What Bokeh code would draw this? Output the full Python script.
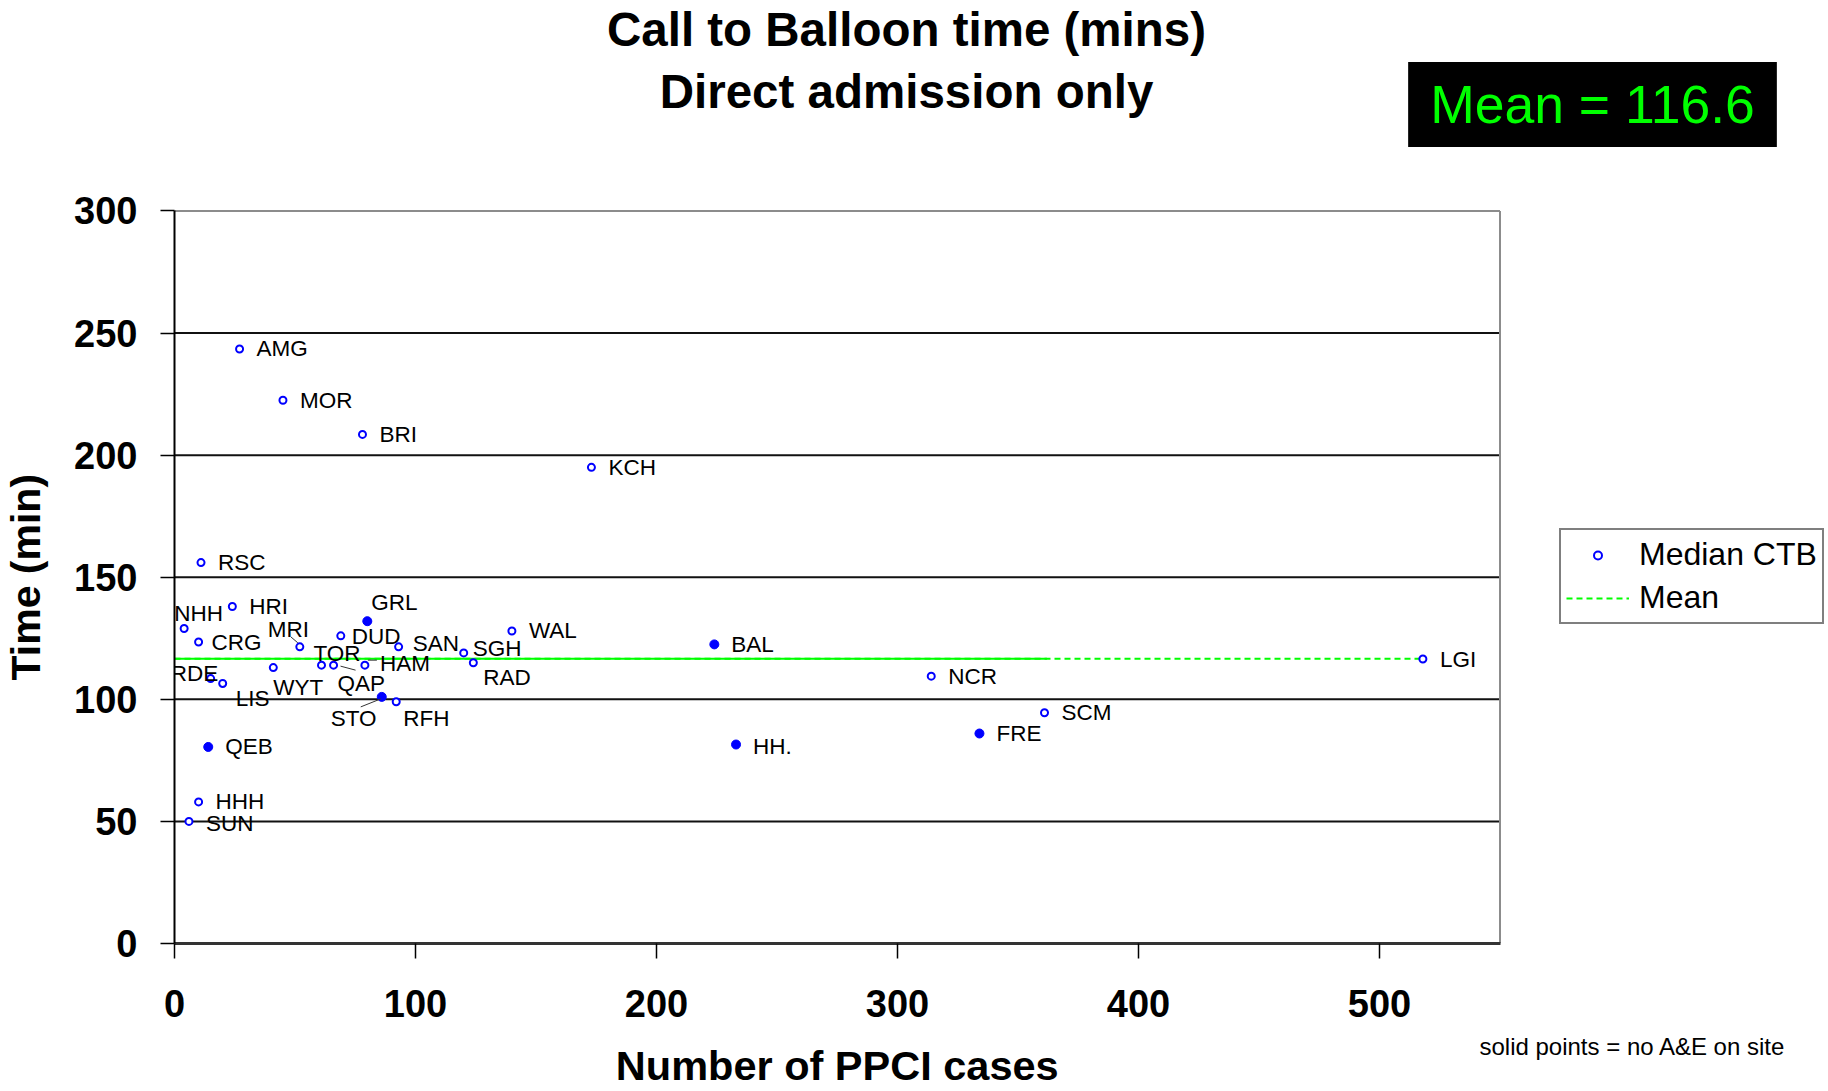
from bokeh.plotting import figure
from bokeh.models import (Label, Legend, LegendItem, ColumnDataSource, FixedTicker,
                          Range1d, LinearAxis)
from bokeh.embed import file_html
from bokeh.resources import INLINE
from bokeh.core.properties import value

# ---------------- data ----------------
codes = ["AMG", "MOR", "BRI", "KCH", "RSC", "NHH", "HRI", "CRG", "MRI", "GRL",
         "DUD", "SAN", "SGH", "WAL", "TOR", "QAP", "HAM", "WYT", "RDE", "LIS",
         "RAD", "STO", "RFH", "QEB", "HHH", "SUN", "BAL", "HH.", "NCR", "FRE",
         "SCM", "LGI"]
ppci_cases = [27, 45, 78, 173, 11, 4, 24, 10, 52, 80,
              69, 93, 120, 140, 61, 66, 79, 41, 15, 20,
              124, 86, 92, 14, 10, 6, 224, 233, 314, 334,
              361, 518]
median_ctb = [243.5, 222.5, 208.5, 195, 156, 129, 138, 123.5, 121.5, 132,
              126, 121.5, 119, 128, 114, 114, 114, 113, 108.5, 106.5,
              115, 101, 99, 80.5, 58, 50, 122.5, 81.5, 109.5, 86,
              94.5, 116.5]
no_ae_on_site = ["GRL", "STO", "QEB", "BAL", "HH.", "FRE"]
mean_ctb = 116.6
mean_solid_end = 362
x_ticks = [0, 100, 200, 300, 400, 500]
y_ticks = [0, 50, 100, 150, 200, 250, 300]
x_axis_max = 550
y_axis_max = 300
x_title = "Number of PPCI cases"
y_title = "Time (min)"
note_text = "solid points = no A&E on site"

# label placement (pixel offsets from the point; default right of point)
label_offsets = {
    "NHH": (-10, -15), "MRI": (-32, -17), "TOR": (-8, -12), "QAP": (4, 18),
    "HAM": (15, -2), "WYT": (0, 20), "RDE": (-40, -5), "LIS": (13, 15),
    "STO": (-51, 22), "RFH": (7, 17), "SUN": (17, 2), "GRL": (4, -19),
    "DUD": (11, 1), "SAN": (14, -3), "SGH": (9, -4), "RAD": (10, 15),
    "CRG": (13, 1), "HH.": (17, 2),
}
leader_offsets = {
    "MRI": (-9, -10, -2, -4), "QAP": (7, 1, 22, 5),
    "HAM": (3, -5, 12, -5), "STO": (-21, 10, -1, 2),
}

# ---------------- layout ----------------
W, H = 1828, 1091
FL, FB = 174, 943          # frame left / bottom (pixels)
SX, SY = 2.41, 2.4417      # pixels per data unit
FONT = "Liberation Sans"
X_END = (W - FL) / SX
Y_END = FB / SY


def px_x(px):
    return (px - FL) / SX


def px_y(py):
    return (FB - py) / SY


p = figure(width=W, height=H, x_range=Range1d(0, X_END), y_range=Range1d(0, Y_END),
           output_backend="svg", toolbar_location=None, title=None,
           min_border_left=FL, min_border_right=0,
           min_border_top=0, min_border_bottom=H - FB)
p.background_fill_color = "white"
p.border_fill_color = "white"
p.outline_line_color = None
p.xgrid.visible = False
p.ygrid.visible = False

# ---- main axes ----
p.xaxis.ticker = FixedTicker(ticks=x_ticks)
p.yaxis.ticker = FixedTicker(ticks=y_ticks)
p.xaxis.bounds = (0, x_axis_max)
p.yaxis.bounds = (0, y_axis_max)
for ax in (p.xaxis[0], p.yaxis[0]):
    ax.major_label_text_font = FONT
    ax.major_label_text_font_style = "bold"
    ax.major_label_text_font_size = "38px"
    ax.major_label_text_color = "black"
    ax.major_tick_line_color = "black"
    ax.major_tick_line_width = 1.5
    ax.major_tick_in = 0
    ax.minor_tick_line_color = None
    ax.minor_tick_out = 0

p.xaxis.axis_line_width = 3
p.xaxis.axis_line_color = "#333333"
p.xaxis.major_tick_out = 15
p.xaxis.major_label_standoff = 31

p.yaxis.axis_line_width = 2
p.yaxis.axis_line_color = "black"
p.yaxis.major_tick_out = 14
p.yaxis.major_label_standoff = 23


def text_axis(tick, label, size, style, standoff, orientation="horizontal"):
    ax = LinearAxis(ticker=FixedTicker(ticks=[tick]),
                    major_label_overrides={tick: label},
                    major_label_orientation=orientation)
    ax.axis_line_color = None
    ax.major_tick_line_color = None
    ax.minor_tick_line_color = None
    ax.major_tick_out = 0
    ax.major_tick_in = 0
    ax.minor_tick_out = 0
    ax.minor_tick_in = 0
    ax.major_label_standoff = standoff
    ax.major_label_text_font = FONT
    ax.major_label_text_font_size = size
    ax.major_label_text_font_style = style
    ax.major_label_text_color = "black"
    return ax


# footnote and x title below, y title at left (placed as labels of line-less axes)
p.add_layout(text_axis(round(px_x(1633)), note_text, "24px", "normal", 13), "below")
p.add_layout(text_axis(round(px_x(837)), x_title, "41.5px", "bold", -21), "below")
p.add_layout(text_axis(y_axis_max // 2, y_title, "41px", "bold", 22, "vertical"), "left")

# ---- plot-area box: grid lines and grey outline ----
grid_y = [t for t in y_ticks if 0 < t < y_axis_max]
p.segment(x0=[0] * len(grid_y), x1=[x_axis_max] * len(grid_y), y0=grid_y, y1=grid_y,
          line_color="#111111", line_width=2)
p.segment(x0=[0, x_axis_max], x1=[x_axis_max, x_axis_max],
          y0=[y_axis_max, 0], y1=[y_axis_max, y_axis_max],
          line_color="#8c8c8c", line_width=2)

# ---- mean line: dashed full length, solid overlay on left part ----
r_mean = p.line(x=[0, max(ppci_cases)], y=[mean_ctb, mean_ctb], line_color="#00FF00",
                line_width=2, line_dash="6 4")
p.line(x=[0, mean_solid_end], y=[mean_ctb, mean_ctb], line_color="#00FF00", line_width=2)

# ---- points ----
open_idx = [i for i, c in enumerate(codes) if c not in no_ae_on_site]
solid_idx = [i for i, c in enumerate(codes) if c in no_ae_on_site]
src_open = ColumnDataSource(dict(x=[ppci_cases[i] for i in open_idx],
                                 y=[median_ctb[i] for i in open_idx]))
src_solid = ColumnDataSource(dict(x=[ppci_cases[i] for i in solid_idx],
                                  y=[median_ctb[i] for i in solid_idx]))
r_open = p.scatter("x", "y", source=src_open, marker="circle", size=7,
                   fill_color="white", line_color="#0000FF", line_width=2)
p.scatter("x", "y", source=src_solid, marker="circle", size=9,
          fill_color="#0000FF", line_color="#0000FF", line_width=1)

# ---- point labels ----
lab_dx = [label_offsets.get(c, (17, 0))[0] for c in codes]
lab_dy = [label_offsets.get(c, (17, 0))[1] for c in codes]
src_lab = ColumnDataSource(dict(x=ppci_cases, y=median_ctb, t=codes, dx=lab_dx, dy=lab_dy))
p.text(x="x", y="y", text="t", x_offset="dx", y_offset="dy", source=src_lab,
       text_font=value(FONT), text_font_size="22.5px", text_align="left",
       text_baseline="middle", text_color="black")

# leader lines
lx0, ly0, lx1, ly1 = [], [], [], []
for c, (a, b, cc, d) in leader_offsets.items():
    i = codes.index(c)
    lx0.append(ppci_cases[i] + a / SX)
    ly0.append(median_ctb[i] - b / SY)
    lx1.append(ppci_cases[i] + cc / SX)
    ly1.append(median_ctb[i] - d / SY)
p.segment(x0=lx0, y0=ly0, x1=lx1, y1=ly1, line_color="#333333", line_width=1)

# ---- legend ----
legend = Legend(items=[LegendItem(label="Median CTB", renderers=[r_open]),
                       LegendItem(label="Mean", renderers=[r_mean])],
                location=(1559 - FL, FB - 624))
legend.label_text_font = FONT
legend.label_text_font_size = "32px"
legend.label_text_color = "black"
legend.glyph_width = 63
legend.glyph_height = 20
legend.label_height = 39
legend.label_standoff = 10
legend.padding = 5
legend.spacing = 4
legend.margin = 0
legend.border_line_color = "black"
legend.border_line_width = 2
legend.background_fill_color = "white"
legend.background_fill_alpha = 1
p.add_layout(legend)

# ---- titles ----
p.add_layout(Label(x=px_x(906), y=px_y(29), text="Call to Balloon time (mins)",
                   text_font=FONT, text_font_style="bold", text_font_size="47.5px",
                   text_align="center", text_baseline="middle", text_color="black"))
p.add_layout(Label(x=px_x(906), y=px_y(91), text="Direct admission only",
                   text_font=FONT, text_font_style="bold", text_font_size="47.5px",
                   text_align="center", text_baseline="middle", text_color="black"))

# ---- mean box ----
p.add_layout(Label(x=px_x(1592), y=px_y(104), text="Mean = " + str(mean_ctb),
                   text_font=FONT, text_font_size="53.5px", text_color="#00FF00",
                   text_align="center", text_baseline="middle",
                   background_fill_color="black",
                   padding=dict(left=22, right=22, top=13, bottom=13)))

open("out.html", "w").write(file_html(p, INLINE))
